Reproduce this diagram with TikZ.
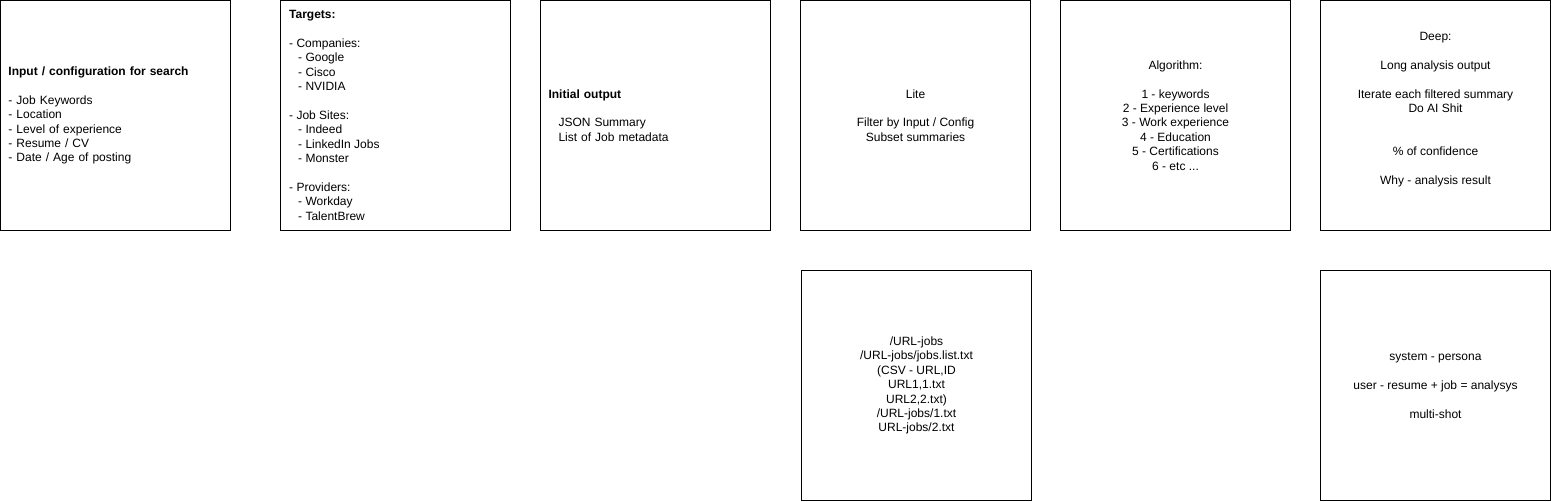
\documentclass[tikz,border=0pt]{standalone}
\usepackage{fontspec}
\setmainfont{Liberation Sans}
\usetikzlibrary{positioning}

\tikzset{
  card/.style={draw, line width=1pt, minimum width=230pt, minimum height=230pt,
    inner sep=0pt, align=center, font=\fontsize{12}{14.4}\selectfont},
  cardleft/.style={card, text width=214pt, align=left},
}

\begin{document}
\begin{tikzpicture}[x=1pt,y=-1pt]
    \useasboundingbox (0,0) rectangle (1551,501);

    % top row
    \node[cardleft] (input) at (115.5,115.5) {\textbf{Input / configuration for search}\\[14.4pt]
        - Job Keywords\\ - Location\\ - Level of experience\\ - Resume / CV\\ - Date / Age of posting};

    \node[card, right=49pt of input] (targets) {};
    \node[anchor=north west, inner sep=0pt, align=left, font=\fontsize{12}{14.4}\selectfont]
        (targets-text) at ([xshift=9pt,yshift=-10pt]targets.north west)
        {\textbf{Targets:}\\[14.4pt]
        - Companies:\\ \hspace*{9pt}- Google\\ \hspace*{9pt}- Cisco\\ \hspace*{9pt}- NVIDIA\\[14.4pt]
        - Job Sites:\\ \hspace*{9pt}- Indeed\\ \hspace*{9pt}- LinkedIn Jobs\\ \hspace*{9pt}- Monster\\[14.4pt]
        - Providers:\\ \hspace*{9pt}- Workday\\ \hspace*{9pt}- TalentBrew};

    \node[cardleft, right=29pt of targets] (initial) {\textbf{Initial output}\\[14.4pt]
        \hspace*{10pt}JSON Summary\\ \hspace*{10pt}List of Job metadata};

    \node[card, right=29pt of initial] (lite) {Lite\\[14.4pt] Filter by Input / Config\\ Subset summaries};

    \node[card, right=29pt of lite] (algo) {Algorithm:\\[14.4pt]
        1 - keywords\\ 2 - Experience level\\ 3 - Work experience\\ 4 - Education\\ 5 - Certifications\\ 6 - etc ...};

    \node[card, right=29pt of algo] (deep) {Deep:\\[14.4pt] Long analysis output\\[14.4pt]
        Iterate each filtered summary\\ Do AI Shit\\[28.8pt] \% of confidence\\[14.4pt]
        Why - analysis result\\ \mbox{}};

    % bottom row
    \node[card, below=39pt of lite, xshift=1pt] (urls) {/URL-jobs\\ /URL-jobs/jobs.list.txt\\ (CSV - URL,ID\\
        URL1,1.txt\\ URL2,2.txt)\\ /URL-jobs/1.txt\\ URL-jobs/2.txt};

    \node[card, below=39pt of deep] (prompt) {system - persona\\[14.4pt]
        user - resume + job = analysys\\[14.4pt] multi-shot};
\end{tikzpicture}
\end{document}
